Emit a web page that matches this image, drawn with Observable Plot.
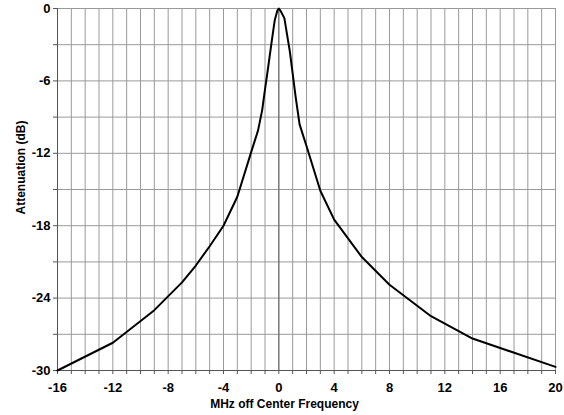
<!DOCTYPE html>
<html>
<head>
<meta charset="utf-8">
<script src="https://cdn.jsdelivr.net/npm/d3@7"></script>
<script src="https://cdn.jsdelivr.net/npm/@observablehq/plot@0.6"></script>
<style>
  html, body { margin: 0; padding: 0; background: #fff; }
  #chart svg { display: block; }
</style>
</head>
<body>
<div id="chart"></div>
<script>
const freqMHz = [-16, -12, -9, -7, -6, -5, -4, -3, -2, -1.5, -1.2, -1, -0.8, -0.5, -0.3, -0.1, 0, 0.1, 0.4, 0.8, 1.0, 1.2, 1.5, 2, 3, 4, 6, 8, 11, 14, 20];
const attenDb = [-30, -27.7, -25.0, -22.7, -21.3, -19.7, -18.0, -15.6, -11.9, -10.1, -8.4, -6.7, -5.1, -2.6, -1.0, -0.15, 0, -0.15, -0.8, -3.6, -5.4, -7.2, -9.6, -11.4, -15.1, -17.5, -20.6, -22.9, -25.5, -27.35, -29.7];
const xTicks = [-16, -12, -8, -4, 0, 4, 8, 12, 16, 20];
const yTicks = [0, -6, -12, -18, -24, -30];
const xGrid = d3.range(-16, 21, 1);
const yGrid = d3.range(-30, 1, 3);
const xTitle = "MHz off Center Frequency";
const yTitle = "Attenuation (dB)";

const data = freqMHz.map((f, i) => ({f, a: attenDb[i]}));

const chart = Plot.plot({
  width: 564,
  height: 415,
  marginLeft: 57,
  marginRight: 9,
  marginTop: 8,
  marginBottom: 45,
  style: {fontFamily: "'Liberation Sans', Arial, sans-serif", fontSize: "13px", fontWeight: "bold", color: "#000", background: "#fff"},
  x: {domain: [-16, 20]},
  y: {domain: [-30, 0]},
  marks: [
    Plot.ruleX(xGrid, {stroke: "#9a9a9a", strokeWidth: 1}),
    Plot.ruleY(yGrid, {stroke: "#9a9a9a", strokeWidth: 1}),
    Plot.ruleX([0], {stroke: "#606060", strokeWidth: 1}),
    Plot.axisX({ticks: xGrid, tickSize: 4, tickPadding: 8, tickFormat: d => xTicks.includes(d) ? String(d) : "", stroke: "#555", fontSize: 13, fontWeight: "bold", label: null}),
    Plot.axisY({ticks: yGrid, tickSize: 4, tickPadding: 3, tickFormat: d => yTicks.includes(d) ? String(d) : "", stroke: "#555", fontSize: 13, fontWeight: "bold", label: null}),
    Plot.text([xTitle], {text: d => d, frameAnchor: "bottom", textAnchor: "middle", lineAnchor: "middle", dy: 34, dx: -22, fontSize: 12, fontWeight: "bold", fill: "#000"}),
    Plot.text([yTitle], {text: d => d, frameAnchor: "left", textAnchor: "middle", lineAnchor: "middle", dx: -36, dy: -22, rotate: -90, fontSize: 12, fontWeight: "bold", fill: "#000"}),
    Plot.ruleX([-16], {stroke: "#555", strokeWidth: 1}),
    Plot.ruleY([-30], {stroke: "#555", strokeWidth: 1}),
    Plot.line(data, {x: "f", y: "a", stroke: "#000", strokeWidth: 2})
  ]
});
document.getElementById("chart").appendChild(chart);
</script>
</body>
</html>
